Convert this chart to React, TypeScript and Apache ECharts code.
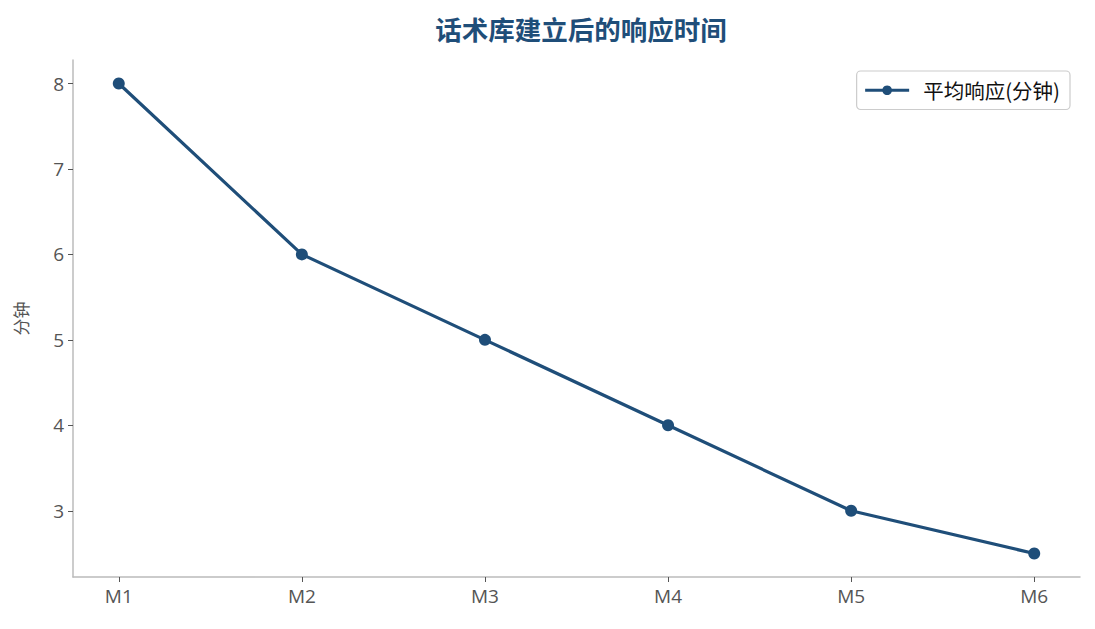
import { useEffect, useRef } from "react";
import * as echarts from "echarts";

const months = ["M1", "M2", "M3", "M4", "M5", "M6"];
const avgResponse = [8, 6, 5, 4, 3, 2.5];
const yTicks = [3, 4, 5, 6, 7, 8];

const FONT = '"Open Sans", "Noto Sans CJK SC", sans-serif';
const CJK = '"Noto Sans CJK SC", "Noto Sans", sans-serif';
const BLUE = "#1f4e79";

export default function App() {
  const ref = useRef<HTMLDivElement>(null);

  useEffect(() => {
    if (!ref.current) return;
    const chart = echarts.init(ref.current, null, { renderer: "svg" });
    const xTicks = months.map((_, i) => i);

    chart.setOption({
      animation: false,
      backgroundColor: "#ffffff",
      textStyle: { fontFamily: FONT },
      title: {
        text: "话术库建立后的响应时间",
        left: 576,
        textAlign: "center",
        top: 10,
        textStyle: { color: BLUE, fontSize: 26.5, fontWeight: "bold", fontFamily: CJK },
      },
      legend: {
        right: 25,
        top: 71,
        padding: [9, 10, 9, 7],
        itemWidth: 44,
        itemHeight: 12,
        borderColor: "#cccccc",
        borderWidth: 1.2,
        borderRadius: 4,
        textStyle: { color: "#111", fontSize: 20.5, fontFamily: CJK, padding: [0, 0, 0, 9] },
        data: ["平均响应(分钟)"],
        lineStyle: { width: 3 },
      },
      grid: { left: 73, right: 15, top: 60, bottom: 52 },
      xAxis: {
        type: "value",
        min: -0.25,
        max: 5.25,
        splitLine: { show: false },
        axisLine: { onZero: false, lineStyle: { color: "#bbbbbb", width: 1.5 } },
        axisTick: { show: true, length: 5, customValues: xTicks, lineStyle: { color: "#555" } },
        axisLabel: {
          customValues: xTicks,
          color: "#555",
          fontSize: 19,
          margin: 9,
          fontFamily: FONT,
          formatter: (v: number) => months[Math.round(v)] ?? "",
        },
      },
      yAxis: {
        type: "value",
        min: 2.225,
        max: 8.275,
        name: "分钟",
        nameLocation: "middle",
        nameGap: 44,
        nameRotate: 90,
        nameTextStyle: { color: "#555", fontSize: 17, fontFamily: CJK },
        splitLine: { show: false },
        axisLine: { show: true, onZero: false, lineStyle: { color: "#bbbbbb", width: 1.5 } },
        axisTick: { show: true, length: 5, customValues: yTicks, lineStyle: { color: "#555" } },
        axisLabel: {
          customValues: yTicks,
          color: "#555",
          fontSize: 19,
          margin: 9,
          fontFamily: FONT,
          formatter: (v: number) => String(v),
        },
      },
      series: [
        {
          name: "平均响应(分钟)",
          type: "line",
          data: avgResponse.map((v, i) => [i, v]),
          symbol: "circle",
          symbolSize: 12,
          itemStyle: { color: BLUE },
          lineStyle: { color: BLUE, width: 3.2 },
        },
      ],
    });

    return () => chart.dispose();
  }, []);

  return (
    <div
      ref={ref}
      style={{ position: "fixed", left: 0, top: 0, width: 1095, height: 629 }}
    />
  );
}
